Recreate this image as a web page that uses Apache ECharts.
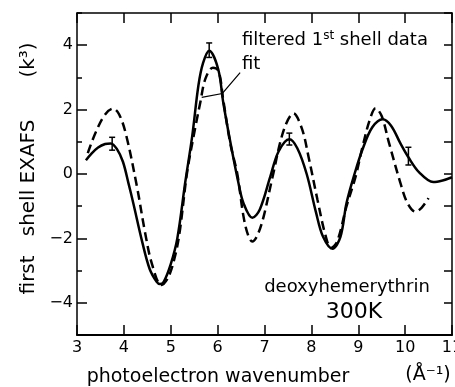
<!DOCTYPE html>
<html>
<head>
<meta charset="utf-8">
<script src="https://cdn.jsdelivr.net/npm/echarts@6/dist/echarts.min.js"></script>
<style>
  html, body { margin: 0; padding: 0; background: #fff; }
  #chart { width: 455px; height: 387px; }
</style>
</head>
<body>
<div id="chart"></div>
<script>
// filtered 1st shell data (solid)
const dataK = [3.19, 3.3, 3.45, 3.6, 3.72, 3.85, 3.98, 4.1, 4.2, 4.39, 4.55, 4.7, 4.77, 4.85, 5.0, 5.14, 5.31, 5.46, 5.59, 5.69, 5.82, 6.01, 6.12, 6.27, 6.44, 6.55, 6.74, 6.9, 7.12, 7.3, 7.53, 7.7, 7.9, 8.1, 8.25, 8.45, 8.62, 8.75, 8.92, 9.1, 9.3, 9.52, 9.7, 9.9, 10.07, 10.3, 10.6, 10.8, 11.0]
const dataV = [0.43, 0.62, 0.82, 0.93, 0.95, 0.78, 0.38, -0.3, -0.9, -2.1, -2.95, -3.35, -3.42, -3.35, -2.8, -2.0, -0.25, 1.2, 2.75, 3.45, 3.83, 3.27, 2.22, 1.0, -0.25, -0.9, -1.36, -1.1, -0.1, 0.7, 1.08, 0.8, 0.0, -1.2, -1.95, -2.32, -1.95, -0.9, 0.0, 0.8, 1.45, 1.7, 1.5, 0.95, 0.52, 0.05, -0.25, -0.2, -0.1]

// fit (dashed)
const fitK = [3.23, 3.4, 3.6, 3.77, 3.9, 4.05, 4.28, 4.45, 4.6, 4.8, 4.95, 5.1, 5.2, 5.35, 5.52, 5.63, 5.74, 5.9, 6.02, 6.12, 6.27, 6.42, 6.55, 6.65, 6.74, 6.85, 6.98, 7.17, 7.41, 7.62, 7.8, 7.94, 8.13, 8.3, 8.42, 8.55, 8.75, 8.94, 9.1, 9.25, 9.37, 9.5, 9.65, 9.9, 10.05, 10.22, 10.35, 10.5]
const fitV = [0.65, 1.3, 1.85, 2.03, 1.85, 1.2, -0.4, -1.8, -2.8, -3.45, -3.2, -2.5, -1.7, 0.06, 1.42, 2.22, 2.96, 3.3, 3.2, 2.3, 0.95, 0.0, -1.3, -1.9, -2.1, -1.9, -1.33, -0.1, 1.36, 1.88, 1.4, 0.53, -0.8, -1.9, -2.3, -2.1, -1.0, -0.1, 0.9, 1.7, 2.04, 1.8, 1.0, -0.28, -0.9, -1.17, -1.05, -0.75]

// error bars on the data
const errK = [3.75, 5.82, 7.53, 10.07]
const errLow = [0.74, 3.62, 0.9, 0.28]
const errHigh = [1.14, 4.07, 1.27, 0.83]

// pointer from the "fit" label
const fitArrowK = [6.48, 6.1, 5.66]
const fitArrowV = [3.15, 2.5, 2.38]

const yMajor = [-4, -2, 0, 2, 4]
const yMinor = [-5, -3, -1, 1, 3, 5]

const chart = echarts.init(document.getElementById('chart'))

const font = '"DejaVu Sans", sans-serif'
const black = '#000'

chart.setOption({
  animation: false,
  grid: { left: 77, right: 3, top: 13, bottom: 52, outerBoundsMode: 'none' },
  xAxis: [
    {
      type: 'value',
      position: 'bottom',
      min: 3,
      max: 11,
      interval: 1,
      axisLine: { onZero: false, lineStyle: { color: black, width: 2 } },
      axisTick: { inside: true, length: 10, lineStyle: { color: black, width: 1.5 } },
      axisLabel: { color: black, fontSize: 16, fontFamily: font, margin: 5 },
      splitLine: { show: false }
    },
    {
      type: 'value',
      position: 'top',
      min: 3,
      max: 11,
      interval: 1,
      axisLine: { onZero: false, lineStyle: { color: black, width: 1.5 } },
      axisTick: { inside: true, length: 10, lineStyle: { color: black, width: 1.5 } },
      axisLabel: { show: false },
      splitLine: { show: false }
    }
  ],
  yAxis: [
    {
      type: 'value',
      position: 'left',
      min: -5,
      max: 5,
      axisLine: { onZero: false, lineStyle: { color: black, width: 1.5 } },
      axisTick: { inside: true, length: 10, customValues: yMajor, lineStyle: { color: black, width: 1.5 } },
      axisLabel: {
        color: black, fontSize: 16, fontFamily: font, margin: 4,
        customValues: yMajor,
        formatter: v => (v < 0 ? '\u2212' + Math.abs(v) : String(v))
      },
      splitLine: { show: false }
    },
    {
      type: 'value',
      position: 'left',
      min: -5,
      max: 5,
      axisLine: { show: false, onZero: false },
      axisTick: { inside: true, length: 5, customValues: yMinor, lineStyle: { color: black, width: 1.5 } },
      axisLabel: { show: false },
      splitLine: { show: false }
    },
    {
      type: 'value',
      position: 'right',
      min: -5,
      max: 5,
      interval: 1,
      axisLine: { onZero: false, lineStyle: { color: black, width: 1.5 } },
      axisTick: { inside: true, length: 8, lineStyle: { color: black, width: 1.5 } },
      axisLabel: { show: false },
      splitLine: { show: false }
    }
  ],
  series: [
    {
      name: 'filtered 1st shell data',
      type: 'line',
      data: dataK.map((k, i) => [k, dataV[i]]),
      smooth: 0.35,
      showSymbol: false,
      lineStyle: { color: black, width: 2.5 }
    },
    {
      name: 'fit',
      type: 'line',
      data: fitK.map((k, i) => [k, fitV[i]]),
      smooth: 0.35,
      showSymbol: false,
      lineStyle: { color: black, width: 2.5, type: [9, 5] }
    },
    {
      name: 'error',
      type: 'custom',
      data: errK.map((k, i) => [k, errLow[i], errHigh[i]]),
      renderItem: (params, api) => {
        const lo = api.coord([api.value(0), api.value(1)])
        const hi = api.coord([api.value(0), api.value(2)])
        const style = { stroke: black, lineWidth: 1.5 }
        return {
          type: 'group',
          children: [
            { type: 'line', shape: { x1: lo[0], y1: lo[1], x2: hi[0], y2: hi[1] }, style },
            { type: 'line', shape: { x1: hi[0] - 3, y1: hi[1], x2: hi[0] + 3, y2: hi[1] }, style },
            { type: 'line', shape: { x1: lo[0] - 3, y1: lo[1], x2: lo[0] + 3, y2: lo[1] }, style }
          ]
        }
      }
    },
    {
      name: 'fit pointer',
      type: 'lines',
      coordinateSystem: 'cartesian2d',
      polyline: true,
      silent: true,
      symbol: ['none', 'arrow'],
      symbolSize: 8,
      lineStyle: { color: black, width: 1.2, opacity: 1 },
      data: [{ coords: fitArrowK.map((k, i) => [k, fitArrowV[i]]) }]
    }
  ],
  graphic: [
    {
      type: 'text', x: 29, y: 207, rotation: Math.PI / 2,
      style: { text: 'first   shell EXAFS', font: '20px ' + font, fill: black, align: 'center', verticalAlign: 'middle' }
    },
    {
      type: 'text', x: 29, y: 60, rotation: Math.PI / 2,
      style: { text: '(k\u00B3)', font: '20px ' + font, fill: black, align: 'center', verticalAlign: 'middle' }
    },
    {
      type: 'text', x: 218, y: 377,
      style: { text: 'photoelectron wavenumber', font: '19px ' + font, fill: black, align: 'center', verticalAlign: 'middle' }
    },
    {
      type: 'text', x: 428, y: 375,
      style: { text: '(\u00C5\u207B\u00B9)', font: '19px ' + font, fill: black, align: 'center', verticalAlign: 'middle' }
    },
    {
      type: 'text', x: 242, y: 40,
      style: {
        text: '{a|filtered 1}{s|st}{a| shell data}',
        fill: black, verticalAlign: 'middle',
        rich: {
          a: { font: '18px ' + font, fill: black },
          s: { font: '12px ' + font, fill: black, verticalAlign: 'top', padding: [0, 0, 8, 0] }
        }
      }
    },
    {
      type: 'text', x: 242, y: 64,
      style: { text: 'fit', font: '18px ' + font, fill: black, verticalAlign: 'middle' }
    },
    {
      type: 'text', x: 347, y: 287,
      style: { text: 'deoxyhemerythrin', font: '18px ' + font, fill: black, align: 'center', verticalAlign: 'middle' }
    },
    {
      type: 'text', x: 354, y: 312,
      style: { text: '300K', font: '22px ' + font, fill: black, align: 'center', verticalAlign: 'middle' }
    }
  ]
})
</script>
</body>
</html>
